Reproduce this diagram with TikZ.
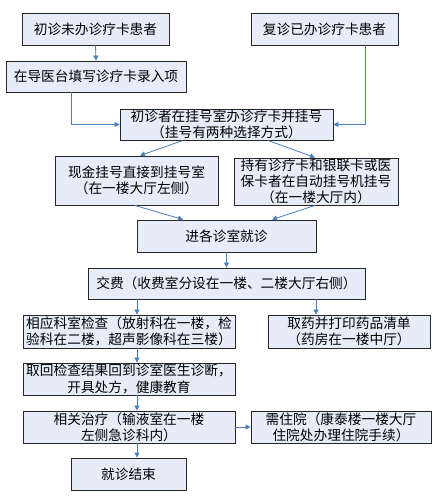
\documentclass[tikz,border=0pt]{standalone}
\usepackage{fontspec}
\setmainfont{Noto Sans CJK SC}
\usetikzlibrary{arrows.meta}
\definecolor{boxfill}{RGB}{231,237,248}
\definecolor{arrblue}{RGB}{74,126,190}
\begin{document}
\begin{tikzpicture}[x=1pt,y=-1pt,
  box/.style={draw=black!85,line width=0.9pt,fill=boxfill,inner sep=0pt,align=center,
    font=\fontsize{13.7}{16.3}\selectfont},
  arr/.style={draw=arrblue,line width=0.8pt,-{Triangle[width=5pt,length=5pt]}}]
\useasboundingbox (0,0) rectangle (437,499);
\fill[white] (0,0) rectangle (437,499);
\node[box,minimum width=147pt,minimum height=32pt] (b1) at (95.5,29) {初诊未办诊疗卡患者};
\node[box,minimum width=147pt,minimum height=32pt] (b2) at (324.5,29) {复诊已办诊疗卡患者};
\node[box,minimum width=180pt,minimum height=31pt] (b3) at (96,76.5) {在导医台填写诊疗卡录入项};
\node[box,minimum width=213pt,minimum height=31pt] (b4) at (226.5,124.5) {初诊者在挂号室办诊疗卡并挂号\\（挂号有两种选择方式）};
\node[box,minimum width=163pt,minimum height=49pt] (b5) at (136.5,180.5) {现金挂号直接到挂号室\\（在一楼大厅左侧）};
\node[box,minimum width=164pt,minimum height=47pt] (b6) at (316,181.5) {持有诊疗卡和银联卡或医\\保卡者在自动挂号机挂号\\（在一楼大厅内）};
\node[box,minimum width=179pt,minimum height=32pt] (b7) at (226.5,236) {进各诊室就诊};
\node[box,minimum width=277pt,minimum height=31pt] (b8) at (226.5,283.5) {交费（收费室分设在一楼、二楼大厅右侧）};
\node[box,minimum width=212pt,minimum height=33pt] (b9) at (129,331.5) {相应科室检查（放射科在一楼，检\\验科在二楼，超声影像科在三楼）};
\node[box,minimum width=162pt,minimum height=33pt] (b10) at (349,331.5) {取药并打印药品清单\\（药房在一楼中厅）};
\node[box,minimum width=212pt,minimum height=32pt] (b11) at (129,379) {取回检查结果回到诊室医生诊断，\\开具处方，健康教育};
\node[box,minimum width=212pt,minimum height=32pt] (b12) at (129,427) {相关治疗（输液室在一楼\\左侧急诊科内）};
\node[box,minimum width=180pt,minimum height=32pt] (b13) at (341,427) {需住院（康泰楼一楼大厅\\住院处办理住院手续）};
\node[box,minimum width=115pt,minimum height=32pt] (b14) at (128.5,474) {就诊结束};
% connectors
\draw[arr] (b1.south) -- (b3.north);
\draw[arr] ([xshift=-25pt]b3.south) |- (b4.west);
\draw[arr] ([xshift=40.5pt]b2.south) |- (b4.east);
\draw[arr] ([xshift=-43.5pt]b4.south) -- ([xshift=3.5pt]b5.north);
\draw[arr] ([xshift=41.5pt]b4.south) -- ([xshift=-1pt]b6.north);
\draw[arr] ([xshift=-1.5pt]b5.south) -- ([xshift=-43.5pt]b7.north);
\draw[arr] ([xshift=-1pt]b6.south) -- ([xshift=45.5pt]b7.north);
\draw[arr] (b7.south) -- (b8.north);
\coordinate (p1) at ([xshift=-89.5pt]b8.south);
\coordinate (p2) at ([xshift=89.5pt]b8.south);
\draw[arr] (p1) -- (p1 |- b9.north);
\draw[arr] (p2) -- (p2 |- b10.north);
\coordinate (p3) at ([xshift=8pt]b9.south);
\coordinate (p4) at ([xshift=8pt]b11.south);
\coordinate (p5) at ([xshift=8pt]b12.south);
\draw[arr] (p3) -- (p3 |- b11.north);
\draw[arr] (p4) -- (p4 |- b12.north);
\draw[arr] (p5) -- (p5 |- b14.north);
\draw[arr] (b12.east) -- (b13.west);
\end{tikzpicture}
\end{document}
